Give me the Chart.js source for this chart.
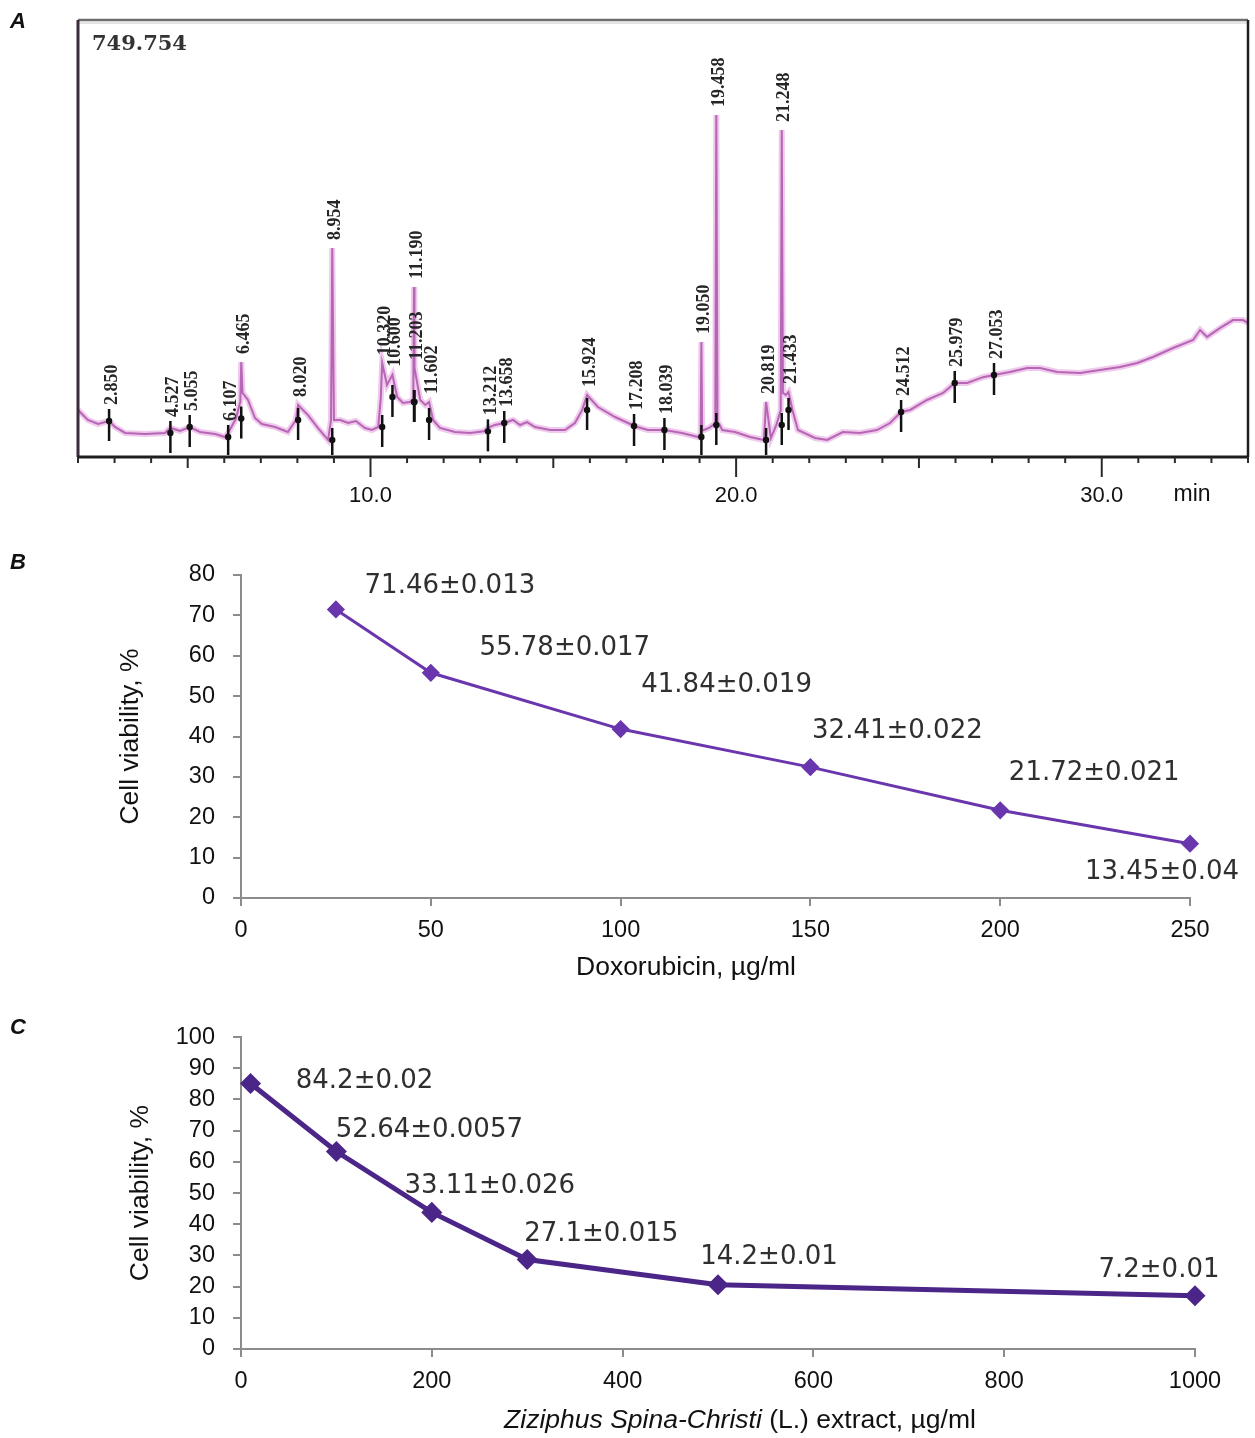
<!DOCTYPE html>
<html>
<head>
<meta charset="utf-8">
<script src="https://cdn.jsdelivr.net/npm/chart.js@4.4.1/dist/chart.umd.min.js"></script>
<style>
  body { margin: 0; background: #fff; width: 1255px; height: 1438px; position: relative; overflow: hidden; }
  canvas { position: absolute; left: 0; }
</style>
</head>
<body>
<canvas id="chartA" width="1255" height="520" style="top:0"></canvas>
<canvas id="chartB" width="1255" height="465" style="top:540px"></canvas>
<canvas id="chartC" width="1255" height="433" style="top:1005px"></canvas>
<script>
// ---- Panel A: chromatogram (retention time, min / detector signal)
const traceTime = [2.00, 2.27, 2.55, 2.85, 3.01, 3.29, 3.83, 4.38, 4.527, 4.79, 5.055, 5.34, 5.75, 6.02, 6.107,
  6.32, 6.44, 6.465, 6.50, 6.65, 6.84, 7.03, 7.39, 7.74, 7.96, 8.02, 8.29, 8.56, 8.84, 8.92, 8.954, 9.00, 9.17,
  9.39, 9.60, 9.85, 10.04, 10.21, 10.28, 10.32, 10.45, 10.60, 10.73, 10.89, 11.08, 11.17, 11.19, 11.203, 11.36,
  11.50, 11.602, 11.71, 11.90, 12.31, 12.72, 13.10, 13.212, 13.40, 13.658, 13.90, 14.09, 14.28, 14.50, 14.91,
  15.32, 15.59, 15.79, 15.924, 16.22, 16.69, 17.10, 17.208, 17.59, 18.039, 18.52, 18.96, 19.03, 19.05, 19.07,
  19.26, 19.43, 19.458, 19.49, 19.55, 19.62, 19.97, 20.38, 20.76, 20.819, 20.95, 21.10, 21.22, 21.248, 21.28,
  21.36, 21.433, 21.54, 21.69, 22.16, 22.49, 22.92, 23.39, 23.85, 24.21, 24.512, 24.76, 25.22, 25.66, 25.979,
  26.32, 26.75, 27.053, 27.49, 27.96, 28.31, 28.78, 29.41, 29.95, 30.50, 30.97, 31.40, 31.95, 32.50, 32.69,
  32.88, 33.24, 33.59, 33.86, 34.00];
const traceSignal = [80.7, 63.5, 56.6, 61.8, 51.5, 41.2, 39.5, 41.2, 49.8, 44.6, 51.5, 42.9, 39.5, 34.3, 41.2,
  66, 95, 163, 110, 97.8, 66.9, 56.6, 51.5, 42.9, 63.5, 89.2, 72, 49.8, 29.2, 63.5, 358.6, 63.5, 63.5,
  58.3, 61.8, 49.8, 46.3, 51.5, 100, 161, 123.6, 141, 103, 92.7, 94.4, 100, 291.7, 152.7, 97.8,
  89.2, 94.4, 63.5, 49.8, 42.9, 41.2, 44, 50, 55, 58.3, 63.5, 54.9, 60, 51.5, 46.3,
  46.3, 58.3, 80.7, 106.4, 85.8, 68.6, 56.6, 53.2, 46.3, 46.3, 41.2, 34.3, 40, 197.3, 45,
  49.8, 58, 586.9, 60, 54.9, 46.3, 42.9, 34.3, 29.2, 94.4, 32.6, 54.9, 80, 561, 110,
  106.4, 111.5, 80.7, 46.3, 32.6, 29.2, 42.9, 41.2, 46.3, 58.3, 77.2, 80.7, 97.8, 109.8, 127,
  127, 137, 140.7, 145.9, 152.7, 152.7, 145.9, 144.1, 149.3, 154.4, 161.3, 171.6, 187, 200.8, 218,
  206, 221.4, 235, 235, 230];
const peakTimes = [2.850, 4.527, 5.055, 6.107, 6.465, 8.020, 8.954, 10.320, 10.600, 11.190, 11.203, 11.602,
  13.212, 13.658, 15.924, 17.208, 18.039, 19.050, 19.458, 20.819, 21.248, 21.433, 24.512, 25.979, 27.053];
const peakLabels = peakTimes.map(t => t.toFixed(3));
const chromTicks = [10, 20, 30];
const chromTickLabels = ["10.0", "20.0", "30.0"];
const chromMax = "749.754";

// ---- Panel B: doxorubicin
const doxDose = [25, 50, 100, 150, 200, 250];
const doxViability = [71.46, 55.78, 41.84, 32.41, 21.72, 13.45];
const doxLabels = ["71.46±0.013", "55.78±0.017", "41.84±0.019", "32.41±0.022", "21.72±0.021", "13.45±0.04"];

// ---- Panel C: Ziziphus extract
const zizDose = [10, 100, 200, 300, 500, 1000];
const zizViability = [85.1, 63.3, 43.8, 28.7, 20.6, 17.1];
const zizLabels = ["84.2±0.02", "52.64±0.0057", "33.11±0.026", "27.1±0.015", "14.2±0.01", "7.2±0.01"];

const SANS = "'Liberation Sans', Arial, sans-serif";
const VERD = "'DejaVu Sans', Verdana, sans-serif";

function seg(ctx, x1, y1, x2, y2) {
  ctx.beginPath(); ctx.moveTo(x1, y1); ctx.lineTo(x2, y2); ctx.stroke();
}

function panelLetter(ctx, letter, x, y) {
  ctx.save();
  ctx.font = "italic bold 22px " + SANS;
  ctx.fillStyle = "#111";
  ctx.textBaseline = "middle";
  ctx.fillText(letter, x, y);
  ctx.restore();
}

// frame, ticks, peak markers and labels of the chromatogram
const chromPlugin = {
  id: "chrom",
  afterDatasetsDraw(chart) {
    const { ctx, chartArea: a, scales: { x, y } } = chart;
    ctx.save();
    ctx.strokeStyle = "#6e6e6e"; ctx.lineWidth = 2.5;
    seg(ctx, a.left, a.top, a.right, a.top);
    ctx.strokeStyle = "#c8c8c8"; ctx.lineWidth = 1;
    seg(ctx, a.left, a.top + 3, a.right, a.top + 3);
    ctx.strokeStyle = "#3b2b3b"; ctx.lineWidth = 3;
    seg(ctx, a.left, a.top, a.left, a.bottom);
    ctx.strokeStyle = "#1e1e1e"; ctx.lineWidth = 2.5;
    seg(ctx, a.right, a.top, a.right, a.bottom);
    ctx.lineWidth = 3;
    seg(ctx, a.left, a.bottom, a.right, a.bottom);

    ctx.strokeStyle = "#2a2a2a"; ctx.lineWidth = 2;
    for (let t = Math.ceil(x.min); t <= x.max; t++) {
      const px = x.getPixelForValue(t);
      const len = t % 10 === 0 ? 20 : (t % 5 === 0 ? 11 : 6);
      seg(ctx, px, a.bottom, px, a.bottom + len);
    }
    ctx.fillStyle = "#111";
    ctx.font = "22px " + SANS;
    ctx.textAlign = "center"; ctx.textBaseline = "middle";
    chromTicks.forEach((t, i) => ctx.fillText(chromTickLabels[i], x.getPixelForValue(t), a.bottom + 39));
    ctx.font = "23px " + SANS;
    ctx.fillText("min", 1192, a.bottom + 38);

    ctx.font = "bold 21px 'DejaVu Serif', serif";
    ctx.fillStyle = "#333";
    ctx.textAlign = "left";
    ctx.fillText(chromMax, a.left + 14, a.top + 25);

    peakTimes.forEach((t, i) => {
      const k = traceTime.indexOf(t);
      const top = traceSignal[k];
      let base = top;
      traceTime.forEach((tt, j) => { if (Math.abs(tt - t) <= 0.15) base = Math.min(base, traceSignal[j]); });
      const px = x.getPixelForValue(t);
      const pyTop = y.getPixelForValue(top);
      const pyBase = y.getPixelForValue(base);
      ctx.strokeStyle = "#111"; ctx.lineWidth = 2.5;
      seg(ctx, px, pyBase - 12, px, Math.min(pyBase + 20, a.bottom - 2));
      ctx.fillStyle = "#111";
      ctx.beginPath(); ctx.arc(px, pyBase, 3.2, 0, Math.PI * 2); ctx.fill();
      ctx.save();
      ctx.translate(px + 3, Math.min(pyTop - 8, pyBase - 16));
      ctx.rotate(-Math.PI / 2);
      ctx.font = "bold 18px 'Liberation Serif', serif";
      ctx.fillStyle = "#262626";
      ctx.textAlign = "left"; ctx.textBaseline = "middle";
      ctx.fillText(peakLabels[i], 0, 0);
      ctx.restore();
    });
    panelLetter(ctx, "A", 10, 22);
    ctx.restore();
  }
};

const tracePoints = traceTime.map((t, i) => ({ x: t, y: traceSignal[i] }));

new Chart(document.getElementById("chartA"), {
  type: "line",
  data: {
    datasets: [
      { data: tracePoints, borderColor: "rgba(226,150,218,0.5)", borderWidth: 6, pointRadius: 0, tension: 0 },
      { data: tracePoints, borderColor: "#8a3690", borderWidth: 2, pointRadius: 0, tension: 0 }
    ]
  },
  options: {
    responsive: false, animation: false, devicePixelRatio: 1,
    layout: { padding: { left: 78, top: 20, right: 7, bottom: 63 } },
    plugins: { legend: { display: false }, tooltip: { enabled: false } },
    scales: {
      x: { type: "linear", min: 2, max: 34, display: false },
      y: { min: 0, max: 749.754, display: false }
    }
  },
  plugins: [chromPlugin]
});

// data labels + titles for the viability panels
function viabilityPlugin(cfg) {
  return {
    id: "viab" + cfg.letter,
    afterDatasetsDraw(chart) {
      const { ctx, chartArea: a } = chart;
      const meta = chart.getDatasetMeta(0);
      ctx.save();
      ctx.font = "26px " + VERD;
      ctx.fillStyle = "#2f2f2f";
      ctx.textAlign = "center"; ctx.textBaseline = "middle";
      meta.data.forEach((pt, i) => {
        const off = cfg.offsets[i];
        ctx.fillText(cfg.labels[i], pt.x + off[0], pt.y + off[1]);
      });
      ctx.fillStyle = "#111";
      ctx.font = "26.5px " + SANS;
      ctx.save();
      ctx.translate(cfg.yTitleX, (a.top + a.bottom) / 2);
      ctx.rotate(-Math.PI / 2);
      ctx.fillText("Cell viability, %", 0, 0);
      ctx.restore();
      // x title, possibly with an italic part
      const parts = cfg.xTitle;
      let total = 0;
      parts.forEach(p => { ctx.font = (p[1] ? "italic " : "") + "26.5px " + SANS; total += ctx.measureText(p[0]).width; });
      let cx = cfg.xTitleX - total / 2;
      ctx.textAlign = "left";
      parts.forEach(p => {
        ctx.font = (p[1] ? "italic " : "") + "26.5px " + SANS;
        ctx.fillText(p[0], cx, cfg.xTitleY);
        cx += ctx.measureText(p[0]).width;
      });
      panelLetter(ctx, cfg.letter, 10, cfg.letterY);
      ctx.restore();
    }
  };
}

function axisCommon() {
  return {
    grid: { drawOnChartArea: false, tickLength: 8, color: "#8c8c8c", lineWidth: 2 },
    border: { color: "#8c8c8c", width: 2 }
  };
}

function viabilityChart(id, dose, values, opts) {
  return new Chart(document.getElementById(id), {
    type: "line",
    data: {
      datasets: [{
        data: dose.map((d, i) => ({ x: d, y: values[i] })),
        borderColor: opts.color, backgroundColor: opts.color,
        borderWidth: opts.lineWidth, pointStyle: "rectRot", pointRadius: 7,
        tension: 0, clip: false
      }]
    },
    options: {
      responsive: false, animation: false, devicePixelRatio: 1,
      layout: { padding: { left: 0, top: opts.padTop, right: opts.padRight, bottom: 0 } },
      plugins: { legend: { display: false }, tooltip: { enabled: false } },
      scales: {
        x: Object.assign(axisCommon(), {
          type: "linear", min: 0, max: opts.xMax,
          ticks: { stepSize: opts.xStep, autoSkip: false, font: { family: SANS, size: 23.5 }, color: "#111",
            padding: 10, callback: v => String(v) },
          afterFit: s => { s.height = opts.xHeight; }
        }),
        y: Object.assign(axisCommon(), {
          min: 0, max: opts.yMax,
          ticks: { stepSize: 10, autoSkip: false, font: { family: SANS, size: 23.5 }, color: "#111",
            padding: 18, callback: v => String(v) },
          afterFit: s => { s.width = 241; }
        })
      }
    },
    plugins: [opts.plugin]
  });
}

viabilityChart("chartB", doxDose, doxViability, {
  color: "#6a36ad", lineWidth: 3, xMax: 250, xStep: 50, yMax: 80,
  padTop: 35, padRight: 65, xHeight: 107,
  plugin: viabilityPlugin({
    letter: "B", letterY: 23, labels: doxLabels,
    offsets: [[114, -23], [134, -25], [106, -44], [87, -36], [94, -37], [-28, 29]],
    yTitleX: 131, xTitleX: 686, xTitleY: 428,
    xTitle: [["Doxorubicin, µg/ml", false]]
  })
});

viabilityChart("chartC", zizDose, zizViability, {
  color: "#4c2588", lineWidth: 5, xMax: 1000, xStep: 200, yMax: 100,
  padTop: 28, padRight: 60, xHeight: 89,
  plugin: viabilityPlugin({
    letter: "C", letterY: 23, labels: zizLabels,
    offsets: [[114, -2], [93, -21], [58, -26], [74, -25], [51, -27], [-36, -25]],
    yTitleX: 141, xTitleX: 740, xTitleY: 416,
    xTitle: [["Ziziphus Spina-Christi", true], [" (L.) extract, µg/ml", false]]
  })
});
</script>
</body>
</html>
